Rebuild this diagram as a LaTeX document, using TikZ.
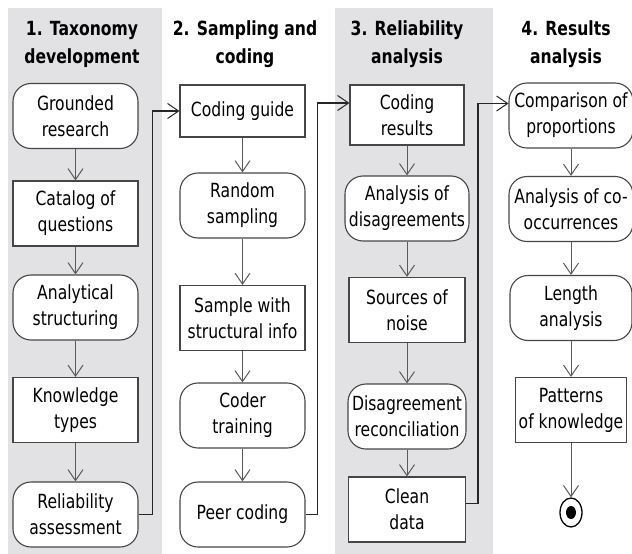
\documentclass[tikz,border=0pt]{standalone}
\usepackage{fontspec}
\setmainfont{DejaVu Sans}[FakeStretch=0.8]
\usepackage{tikz}
\usetikzlibrary{arrows.meta, calc, shapes.geometric}
\definecolor{lanegrey}{RGB}{226, 226, 228}
\definecolor{boxline}{RGB}{70, 70, 70}
\definecolor{flowgrey}{RGB}{90, 90, 90}

\begin{document}
\begin{tikzpicture}[x=1pt, y=-1pt,
    every node/.style={font=\fontsize{19.5}{26}\selectfont, align=center, inner sep=1pt},
    stagebox/.style={draw=boxline, line width=1.1pt, fill=white, minimum width=#1, minimum height=65pt},
    stagebox/.default=125pt,
    actbox/.style={stagebox=#1, rounded corners=18pt},
    actbox/.default=125pt,
    lanetitle/.style={font=\bfseries\fontsize{19.5}{28}\selectfont},
    flow/.style={draw=flowgrey, line width=1pt, -{Straight Barb[length=11pt, width=15pt, line width=1pt]}},
    handoff/.style={draw=black!85, line width=1.3pt, -{Straight Barb[length=11pt, width=15pt, line width=1pt]}}]
  \useasboundingbox (0,0) rectangle (632,554);
  \fill[lanegrey] (8,8) rectangle (162,554);
  \fill[lanegrey] (335,8) rectangle (493,554);

  \node[lanetitle] (t1) at (82,44) {1. Taxonomy\\development};
  \node[lanetitle] (t2) at (245,44) {2. Sampling and\\coding};
  \node[lanetitle] (t3) at (407,44) {3. Reliability\\analysis};
  \node[lanetitle] (t4) at (566,44) {4. Results\\analysis};

  % taxonomy development
  \node[actbox] (g1) at (75.5,116) {Grounded\\research};
  \node[stagebox] (g2) at (75.5,213.5) {Catalog of\\questions};
  \node[actbox] (g3) at (75.5,307.5) {Analytical\\structuring};
  \node[stagebox] (g4) at (75.5,410) {Knowledge\\types};
  \node[actbox] (g5) at (75.5,514.5) {Reliability\\assessment};

  % sampling and coding
  \node[stagebox, minimum height=52pt] (s1) at (242.5,111) {Coding guide};
  \node[actbox] (s2) at (242.5,205.5) {Random\\sampling};
  \node[stagebox] (s3) at (242.5,318) {Sample with\\structural info};
  \node[actbox] (s4) at (242.5,415.5) {Coder\\training};
  \node[actbox] (s5) at (242.5,514.5) {Peer coding};

  % reliability analysis
  \node[stagebox=114pt, minimum height=60pt] (r1) at (407,115) {Coding\\results};
  \node[actbox=124pt] (r2) at (407,208.5) {Analysis of\\disagreements};
  \node[stagebox=116pt] (r3) at (407,310) {Sources of\\noise};
  \node[actbox=118pt] (r4) at (407,416.5) {Disagreement\\reconciliation};
  \node[stagebox=117pt] (r5) at (407,509.5) {Clean\\data};

  % results analysis
  \node[actbox=124pt] (c1) at (571,115.5) {Comparison of\\proportions};
  \node[actbox=124pt] (c2) at (571,209) {Analysis of co-\\occurrences};
  \node[actbox=122pt] (c3) at (571,308) {Length\\analysis};
  \node[stagebox=111pt] (c4) at (571,410) {Patterns\\of knowledge};
  \node[draw=black, line width=1.3pt, ellipse, minimum width=22pt, minimum height=29pt, inner sep=0pt] (fin) at (571,512.5) {};
  \fill[black] (fin.center) ellipse (5pt and 6.5pt);

  \foreach \a/\b in {g1/g2, g2/g3, g3/g4, g4/g5, s1/s2, s2/s3, s3/s4, s4/s5,
                     r1/r2, r2/r3, r3/r4, r4/r5, c1/c2, c2/c3, c3/c4, c4/fin}
    \draw[flow] (\a.south) -- (\b.north);

  \draw[handoff] (g5.east) -- ++(14,0) |- (s1.west);
  \draw[handoff] (s5.east) -- ++(12,0) |- ([yshift=12pt]r1.west);
  \draw[handoff] ([yshift=6pt]r5.east) -- ++(12,0) |- ([yshift=12pt]c1.west);
\end{tikzpicture}
\end{document}
